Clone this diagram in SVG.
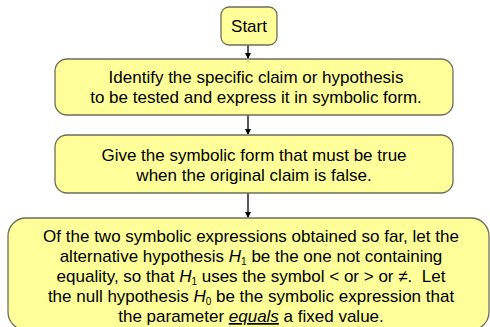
<svg xmlns="http://www.w3.org/2000/svg" width="490" height="327" viewBox="0 0 490 327">
<style>
.box{fill:#FFFF99;stroke:#6E6E5A;stroke-width:1.3}
.t{font-family:"Liberation Sans",Arial,sans-serif;font-size:17px;fill:#000;text-anchor:middle}
.c{stroke:#000;stroke-width:1.3;fill:none}
.sub{font-size:10px}
</style>
<defs>
<marker id="ah" markerWidth="6" markerHeight="6" refX="5" refY="3" orient="auto" markerUnits="userSpaceOnUse">
<path d="M0,0 L6,3 L0,6 z" fill="#000"/>
</marker>
</defs>
<rect width="490" height="327" fill="#fff"/>
<g id="connectors">
<line class="c" x1="248" y1="45" x2="248" y2="58" marker-end="url(#ah)"/>
<line class="c" x1="248" y1="115" x2="248" y2="134" marker-end="url(#ah)"/>
<line class="c" x1="248" y1="193" x2="248" y2="217" marker-end="url(#ah)"/>
</g>
<g id="start">
<rect class="box" x="221" y="7" width="56" height="38" rx="8"/>
<text class="t" x="249" y="32">Start</text>
</g>
<g id="identify">
<rect class="box" x="55" y="59" width="398" height="56" rx="12"/>
<text class="t" x="256" y="83">Identify the specific claim or hypothesis</text>
<text class="t" x="256" y="103">to be tested and express it in symbolic form.</text>
</g>
<g id="negate">
<rect class="box" x="55" y="135" width="398" height="58" rx="12"/>
<text class="t" x="254" y="161">Give the symbolic form that must be true</text>
<text class="t" x="254" y="181">when the original claim is false.</text>
</g>
<g id="hypotheses">
<rect class="box" x="8" y="218" width="481" height="112" rx="18"/>
<text class="t" x="251" y="242">Of the two symbolic expressions obtained so far, let the</text>
<text class="t" x="251" y="262">alternative hypothesis <tspan font-style="italic">H</tspan><tspan class="sub" dy="3">1</tspan><tspan dy="-3"> be the one not containing</tspan></text>
<text class="t" x="251" y="282" xml:space="preserve">equality, so that <tspan font-style="italic">H</tspan><tspan class="sub" dy="3">1</tspan><tspan dy="-3"> uses the symbol &lt; or &gt; or ≠.  Let</tspan></text>
<text class="t" x="251" y="302">the null hypothesis <tspan font-style="italic">H</tspan><tspan class="sub" dy="3">0</tspan><tspan dy="-3"> be the symbolic expression that</tspan></text>
<text class="t" x="251" y="322">the parameter <tspan font-style="italic" text-decoration="underline">equals</tspan> a fixed value.</text>
</g>
</svg>
